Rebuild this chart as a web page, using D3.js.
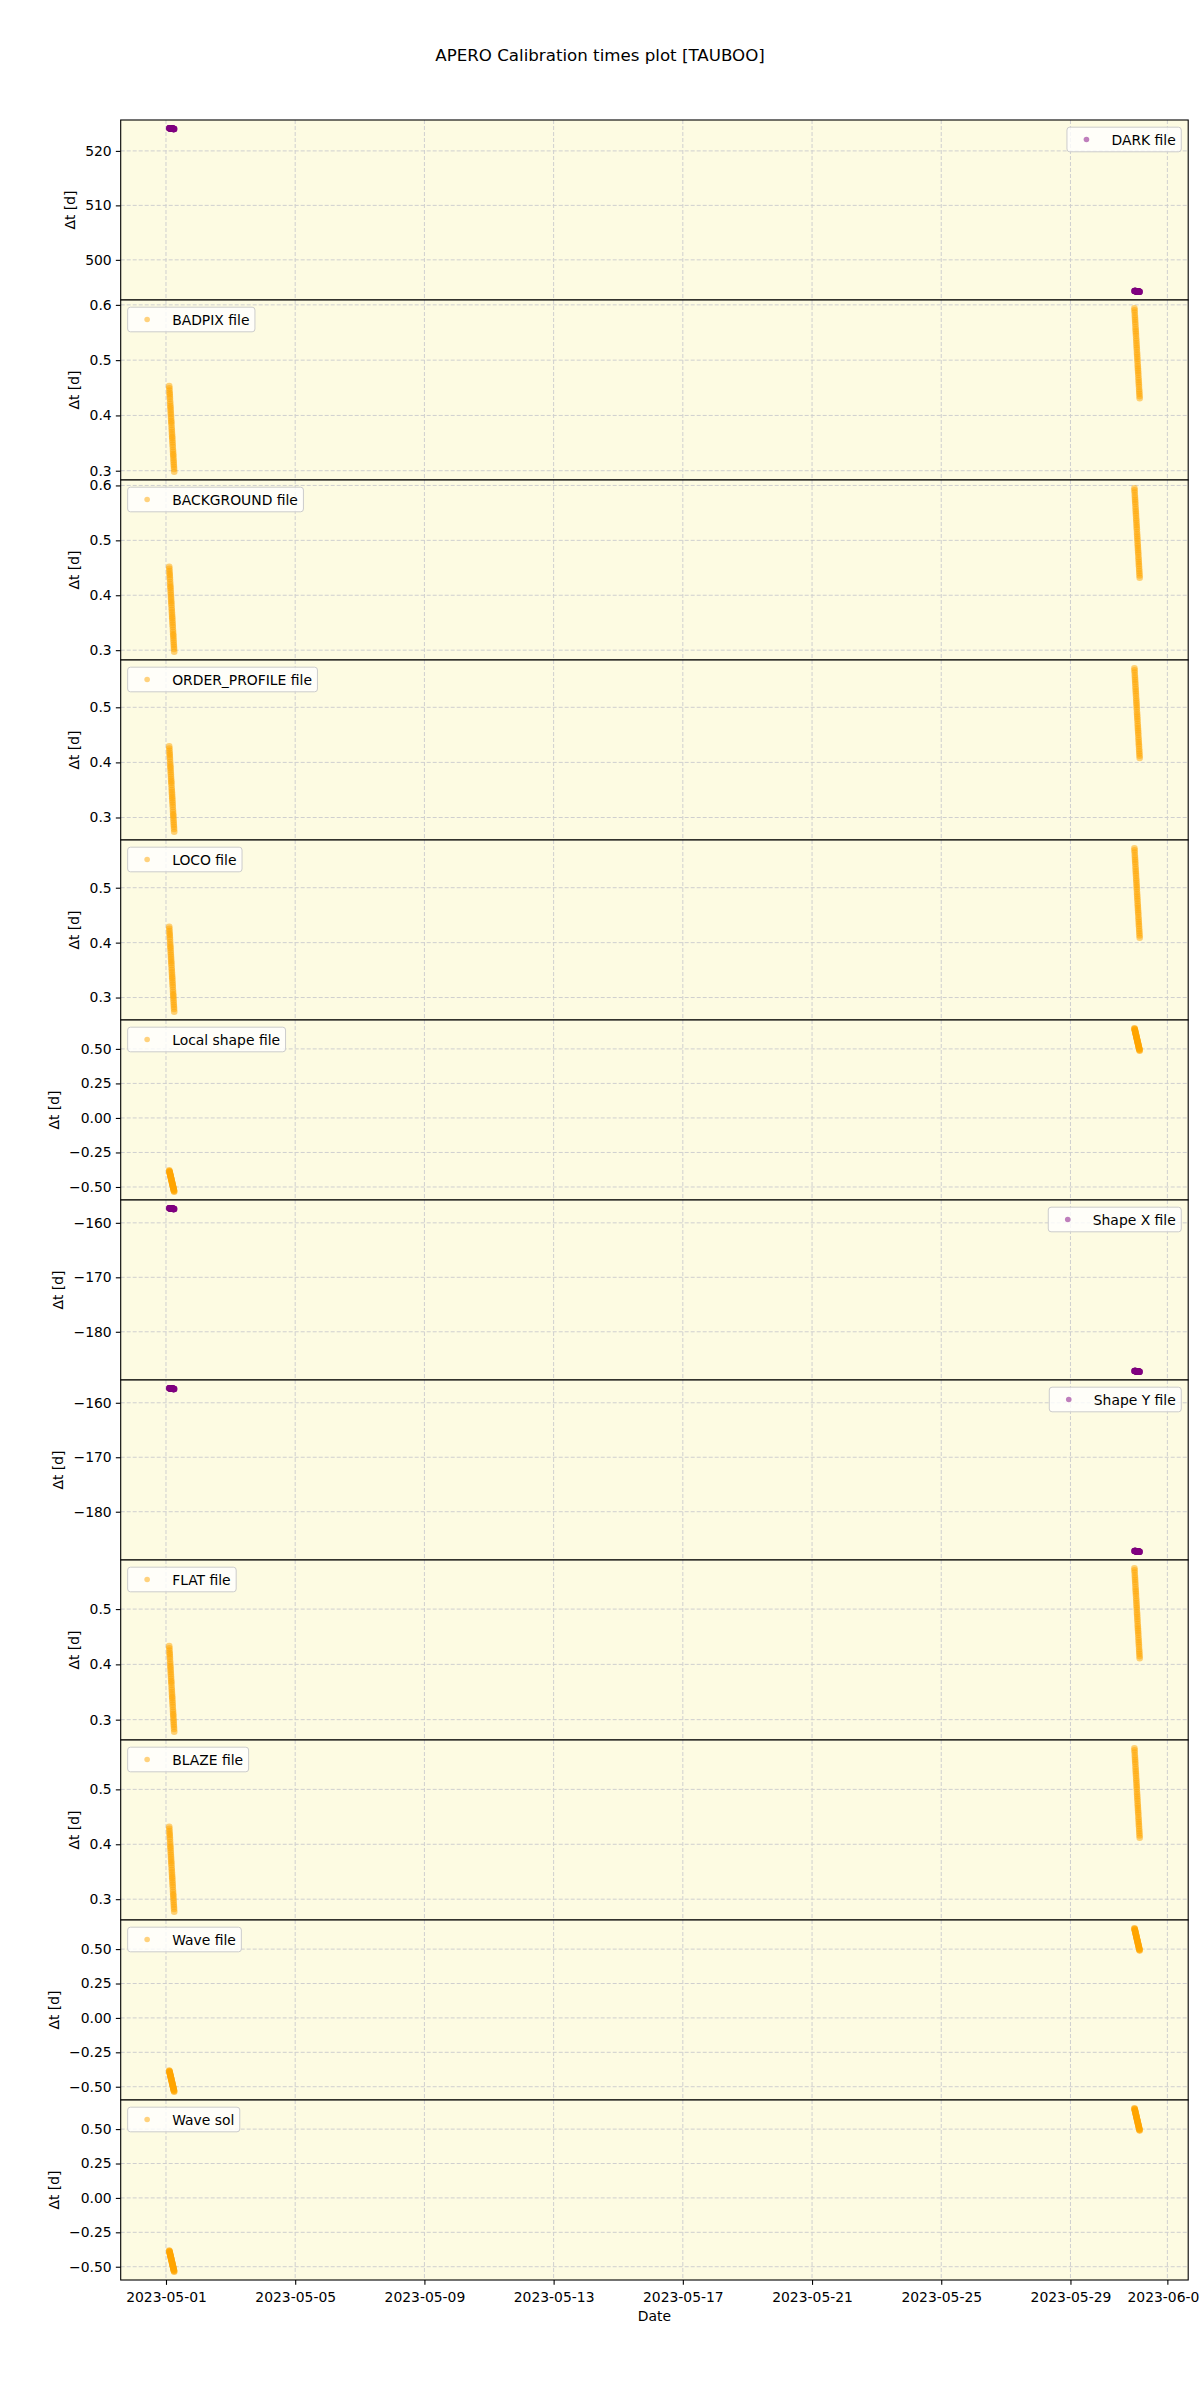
<!DOCTYPE html>
<html>
<head>
<meta charset="utf-8">
<script src="https://cdn.jsdelivr.net/npm/d3@7"></script>
<style>
body { margin: 0; background: #fff; }
text { font-family: "DejaVu Sans", sans-serif; }
</style>
</head>
<body>
<div id="container"></div>
<script>
// observation times, in days after 2023-05-01 00:00 UTC
var obsEarly = [0.100, 0.104, 0.108, 0.112, 0.115, 0.119, 0.123, 0.128, 0.132, 0.136, 0.139, 0.143, 0.147, 0.151, 0.155, 0.159, 0.163, 0.166, 0.170, 0.175,
                0.179, 0.183, 0.187, 0.191, 0.194, 0.198, 0.202, 0.206, 0.210, 0.215, 0.219, 0.223, 0.226, 0.230, 0.234, 0.238, 0.242, 0.246, 0.250, 0.255];
var obsLate = [29.980, 29.984, 29.988, 29.993, 29.997, 30.001, 30.005, 30.009, 30.014, 30.018, 30.022, 30.026, 30.030, 30.035, 30.039, 30.043, 30.047, 30.051, 30.055, 30.060,
               30.064, 30.068, 30.072, 30.076, 30.081, 30.085, 30.089, 30.093, 30.097, 30.101, 30.106, 30.110, 30.114, 30.118, 30.122, 30.127, 30.131, 30.135, 30.139, 30.143];

// delta t [d] per calibration type: first 40 go with obsEarly, last 40 with obsLate
var darkDt = [524.17, 524.17, 524.16, 524.16, 524.16, 524.15, 524.15, 524.14, 524.14, 524.13, 524.13, 524.13, 524.12, 524.12, 524.12, 524.11, 524.11, 524.10, 524.10, 524.10,
              524.09, 524.09, 524.08, 524.08, 524.08, 524.07, 524.07, 524.06, 524.06, 524.06, 524.05, 524.05, 524.04, 524.04, 524.04, 524.03, 524.03, 524.02, 524.02, 524.02,
              494.29, 494.29, 494.28, 494.28, 494.27, 494.27, 494.27, 494.26, 494.26, 494.25, 494.25, 494.24, 494.24, 494.24, 494.23, 494.23, 494.22, 494.22, 494.22, 494.21,
              494.21, 494.20, 494.20, 494.19, 494.19, 494.19, 494.18, 494.18, 494.17, 494.17, 494.16, 494.16, 494.16, 494.15, 494.15, 494.14, 494.14, 494.14, 494.13, 494.13];
var badpixDt = [0.453, 0.449, 0.445, 0.441, 0.438, 0.434, 0.430, 0.425, 0.421, 0.417, 0.414, 0.410, 0.406, 0.402, 0.398, 0.394, 0.390, 0.387, 0.383, 0.378,
                0.374, 0.370, 0.366, 0.362, 0.359, 0.355, 0.351, 0.347, 0.343, 0.338, 0.334, 0.330, 0.327, 0.323, 0.319, 0.315, 0.311, 0.307, 0.303, 0.298,
                0.594, 0.590, 0.586, 0.581, 0.577, 0.573, 0.569, 0.565, 0.560, 0.556, 0.552, 0.548, 0.544, 0.539, 0.535, 0.531, 0.527, 0.523, 0.519, 0.514,
                0.510, 0.506, 0.502, 0.498, 0.493, 0.489, 0.485, 0.481, 0.477, 0.473, 0.468, 0.464, 0.460, 0.456, 0.452, 0.447, 0.443, 0.439, 0.435, 0.431];
var backgroundDt = [0.452, 0.448, 0.444, 0.440, 0.437, 0.433, 0.429, 0.424, 0.420, 0.416, 0.413, 0.409, 0.405, 0.401, 0.397, 0.393, 0.389, 0.386, 0.382, 0.377,
                    0.373, 0.369, 0.365, 0.361, 0.358, 0.354, 0.350, 0.346, 0.342, 0.337, 0.333, 0.329, 0.326, 0.322, 0.318, 0.314, 0.310, 0.306, 0.302, 0.297,
                    0.595, 0.591, 0.587, 0.582, 0.578, 0.574, 0.570, 0.566, 0.561, 0.557, 0.553, 0.549, 0.545, 0.540, 0.536, 0.532, 0.528, 0.524, 0.520, 0.515,
                    0.511, 0.507, 0.503, 0.499, 0.494, 0.490, 0.486, 0.482, 0.478, 0.474, 0.469, 0.465, 0.461, 0.457, 0.453, 0.448, 0.444, 0.440, 0.436, 0.432];
var orderProfileDt = [0.429, 0.425, 0.421, 0.417, 0.414, 0.410, 0.406, 0.401, 0.397, 0.393, 0.390, 0.386, 0.382, 0.378, 0.374, 0.370, 0.366, 0.363, 0.359, 0.354,
                      0.350, 0.346, 0.342, 0.338, 0.335, 0.331, 0.327, 0.323, 0.319, 0.314, 0.310, 0.306, 0.303, 0.299, 0.295, 0.291, 0.287, 0.283, 0.279, 0.274,
                      0.571, 0.567, 0.563, 0.558, 0.554, 0.550, 0.546, 0.542, 0.537, 0.533, 0.529, 0.525, 0.521, 0.516, 0.512, 0.508, 0.504, 0.500, 0.496, 0.491,
                      0.487, 0.483, 0.479, 0.475, 0.470, 0.466, 0.462, 0.458, 0.454, 0.450, 0.445, 0.441, 0.437, 0.433, 0.429, 0.424, 0.420, 0.416, 0.412, 0.408];
var locoDt = [0.429, 0.425, 0.421, 0.417, 0.414, 0.410, 0.406, 0.401, 0.397, 0.393, 0.390, 0.386, 0.382, 0.378, 0.374, 0.370, 0.366, 0.363, 0.359, 0.354,
              0.350, 0.346, 0.342, 0.338, 0.335, 0.331, 0.327, 0.323, 0.319, 0.314, 0.310, 0.306, 0.303, 0.299, 0.295, 0.291, 0.287, 0.283, 0.279, 0.274,
              0.572, 0.568, 0.564, 0.559, 0.555, 0.551, 0.547, 0.543, 0.538, 0.534, 0.530, 0.526, 0.522, 0.517, 0.513, 0.509, 0.505, 0.501, 0.497, 0.492,
              0.488, 0.484, 0.480, 0.476, 0.471, 0.467, 0.463, 0.459, 0.455, 0.451, 0.446, 0.442, 0.438, 0.434, 0.430, 0.425, 0.421, 0.417, 0.413, 0.409];
var localShapeDt = [-0.380, -0.384, -0.388, -0.392, -0.395, -0.399, -0.403, -0.408, -0.412, -0.416, -0.419, -0.423, -0.427, -0.431, -0.435, -0.439, -0.443, -0.446, -0.450, -0.455,
                    -0.459, -0.463, -0.467, -0.471, -0.474, -0.478, -0.482, -0.486, -0.490, -0.495, -0.499, -0.503, -0.506, -0.510, -0.514, -0.518, -0.522, -0.526, -0.530, -0.535,
                    0.650, 0.646, 0.642, 0.637, 0.633, 0.629, 0.625, 0.621, 0.616, 0.612, 0.608, 0.604, 0.600, 0.595, 0.591, 0.587, 0.583, 0.579, 0.575, 0.570,
                    0.566, 0.562, 0.558, 0.554, 0.549, 0.545, 0.541, 0.537, 0.533, 0.529, 0.524, 0.520, 0.516, 0.512, 0.508, 0.503, 0.499, 0.495, 0.491, 0.487];
var shapeXDt = [-157.31, -157.31, -157.32, -157.32, -157.33, -157.33, -157.33, -157.34, -157.34, -157.35, -157.35, -157.35, -157.36, -157.36, -157.37, -157.37, -157.37, -157.38, -157.38, -157.39,
                -157.39, -157.39, -157.40, -157.40, -157.40, -157.41, -157.41, -157.42, -157.42, -157.43, -157.43, -157.43, -157.44, -157.44, -157.44, -157.45, -157.45, -157.46, -157.46, -157.47,
                -187.19, -187.19, -187.20, -187.20, -187.21, -187.21, -187.22, -187.22, -187.22, -187.23, -187.23, -187.24, -187.24, -187.25, -187.25, -187.25, -187.26, -187.26, -187.27, -187.27,
                -187.27, -187.28, -187.28, -187.29, -187.29, -187.30, -187.30, -187.30, -187.31, -187.31, -187.32, -187.32, -187.32, -187.33, -187.33, -187.34, -187.34, -187.35, -187.35, -187.35];
var shapeYDt = [-157.32, -157.32, -157.33, -157.33, -157.34, -157.34, -157.34, -157.35, -157.35, -157.36, -157.36, -157.36, -157.37, -157.37, -157.38, -157.38, -157.38, -157.39, -157.39, -157.40,
                -157.40, -157.40, -157.41, -157.41, -157.41, -157.42, -157.42, -157.43, -157.43, -157.44, -157.44, -157.44, -157.45, -157.45, -157.45, -157.46, -157.46, -157.47, -157.47, -157.48,
                -187.20, -187.20, -187.21, -187.21, -187.22, -187.22, -187.23, -187.23, -187.23, -187.24, -187.24, -187.25, -187.25, -187.26, -187.26, -187.26, -187.27, -187.27, -187.28, -187.28,
                -187.28, -187.29, -187.29, -187.30, -187.30, -187.31, -187.31, -187.31, -187.32, -187.32, -187.33, -187.33, -187.33, -187.34, -187.34, -187.35, -187.35, -187.36, -187.36, -187.36];
var flatDt = [0.433, 0.429, 0.425, 0.421, 0.418, 0.414, 0.410, 0.405, 0.401, 0.397, 0.394, 0.390, 0.386, 0.382, 0.378, 0.374, 0.370, 0.367, 0.363, 0.358,
              0.354, 0.350, 0.346, 0.342, 0.339, 0.335, 0.331, 0.327, 0.323, 0.318, 0.314, 0.310, 0.307, 0.303, 0.299, 0.295, 0.291, 0.287, 0.283, 0.278,
              0.574, 0.570, 0.566, 0.561, 0.557, 0.553, 0.549, 0.545, 0.540, 0.536, 0.532, 0.528, 0.524, 0.519, 0.515, 0.511, 0.507, 0.503, 0.499, 0.494,
              0.490, 0.486, 0.482, 0.478, 0.473, 0.469, 0.465, 0.461, 0.457, 0.453, 0.448, 0.444, 0.440, 0.436, 0.432, 0.427, 0.423, 0.419, 0.415, 0.411];
var blazeDt = [0.432, 0.428, 0.424, 0.420, 0.417, 0.413, 0.409, 0.404, 0.400, 0.396, 0.393, 0.389, 0.385, 0.381, 0.377, 0.373, 0.369, 0.366, 0.362, 0.357,
               0.353, 0.349, 0.345, 0.341, 0.338, 0.334, 0.330, 0.326, 0.322, 0.317, 0.313, 0.309, 0.306, 0.302, 0.298, 0.294, 0.290, 0.286, 0.282, 0.277,
               0.575, 0.571, 0.567, 0.562, 0.558, 0.554, 0.550, 0.546, 0.541, 0.537, 0.533, 0.529, 0.525, 0.520, 0.516, 0.512, 0.508, 0.504, 0.500, 0.495,
               0.491, 0.487, 0.483, 0.479, 0.474, 0.470, 0.466, 0.462, 0.458, 0.454, 0.449, 0.445, 0.441, 0.437, 0.433, 0.428, 0.424, 0.420, 0.416, 0.412];
var waveFileDt = [-0.382, -0.386, -0.390, -0.394, -0.397, -0.401, -0.405, -0.410, -0.414, -0.418, -0.421, -0.425, -0.429, -0.433, -0.437, -0.441, -0.445, -0.448, -0.452, -0.457,
                  -0.461, -0.465, -0.469, -0.473, -0.476, -0.480, -0.484, -0.488, -0.492, -0.497, -0.501, -0.505, -0.508, -0.512, -0.516, -0.520, -0.524, -0.528, -0.532, -0.537,
                  0.652, 0.648, 0.644, 0.639, 0.635, 0.631, 0.627, 0.623, 0.618, 0.614, 0.610, 0.606, 0.602, 0.597, 0.593, 0.589, 0.585, 0.581, 0.577, 0.572,
                  0.568, 0.564, 0.560, 0.556, 0.551, 0.547, 0.543, 0.539, 0.535, 0.531, 0.526, 0.522, 0.518, 0.514, 0.510, 0.505, 0.501, 0.497, 0.493, 0.489];
var waveSolDt = [-0.382, -0.386, -0.390, -0.394, -0.397, -0.401, -0.405, -0.410, -0.414, -0.418, -0.421, -0.425, -0.429, -0.433, -0.437, -0.441, -0.445, -0.448, -0.452, -0.457,
                 -0.461, -0.465, -0.469, -0.473, -0.476, -0.480, -0.484, -0.488, -0.492, -0.497, -0.501, -0.505, -0.508, -0.512, -0.516, -0.520, -0.524, -0.528, -0.532, -0.537,
                 0.652, 0.648, 0.644, 0.639, 0.635, 0.631, 0.627, 0.623, 0.618, 0.614, 0.610, 0.606, 0.602, 0.597, 0.593, 0.589, 0.585, 0.581, 0.577, 0.572,
                 0.568, 0.564, 0.560, 0.556, 0.551, 0.547, 0.543, 0.539, 0.535, 0.531, 0.526, 0.522, 0.518, 0.514, 0.510, 0.505, 0.501, 0.497, 0.493, 0.489];

var panelNames = ["DARK file", "BADPIX file", "BACKGROUND file", "ORDER_PROFILE file", "LOCO file", "Local shape file",
                  "Shape X file", "Shape Y file", "FLAT file", "BLAZE file", "Wave file", "Wave sol"];
var panelValues = [darkDt, badpixDt, backgroundDt, orderProfileDt, locoDt, localShapeDt,
                   shapeXDt, shapeYDt, flatDt, blazeDt, waveFileDt, waveSolDt];

// y tick values per panel
var darkTicks = [500, 510, 520];
var pixTicks = [0.3, 0.4, 0.5, 0.6];
var profTicks = [0.3, 0.4, 0.5];
var halfTicks = [-0.50, -0.25, 0.00, 0.25, 0.50];
var shapeTicks = [-180, -170, -160];
var panelTicks = [darkTicks, pixTicks, pixTicks, profTicks, profTicks, halfTicks,
                  shapeTicks, shapeTicks, profTicks, profTicks, halfTicks, halfTicks];

var xTickLabels = ["2023-05-01", "2023-05-05", "2023-05-09", "2023-05-13", "2023-05-17",
                   "2023-05-21", "2023-05-25", "2023-05-29", "2023-06-01"];

// older calibrations: purple, legend on the right
var purpleNames = ["DARK file", "Shape X file", "Shape Y file"];

var width = 1200, height = 2400;
var left = 120.7, right = 1188.2, top0 = 120, panelH = 180;
var bg = "#fdfbe2";
var fs = 13.9;

var svg = d3.select("#container").append("svg")
    .attr("width", width)
    .attr("height", height)
    .style("display", "block")
    .style("background", "#fff");

var dayMs = 864e5, t0 = Date.UTC(2023, 4, 1);
var obsDates = obsEarly.concat(obsLate).map(d => new Date(t0 + d * dayMs));

// matplotlib style 5% margins
function pad(ext) {
    var m = (ext[1] - ext[0]) * 0.05;
    return [ext[0] - m, ext[1] + m];
}

var xExt = d3.extent(obsDates, d => +d);
var x = d3.scaleUtc()
    .domain(pad(xExt).map(v => new Date(v)))
    .range([left, right]);

var parseDay = d3.utcParse("%Y-%m-%d");
var xTicks = xTickLabels.map(parseDay);

svg.append("text")
    .attr("x", 600)
    .attr("y", 60.5)
    .attr("text-anchor", "middle")
    .style("font-size", "16.67px")
    .attr("fill", "#000")
    .text("APERO Calibration times plot [TAUBOO]");

panelNames.forEach(function(name, i) {
    var vals = panelValues[i];
    var ticks = panelTicks[i];
    var top = top0 + i * panelH;
    var isPurple = purpleNames.indexOf(name) >= 0;
    var color = isPurple ? "#800080" : "#ffa500";

    var g = svg.append("g").attr("transform", "translate(0," + top + ")");

    var y = d3.scaleLinear()
        .domain(pad(d3.extent(vals)))
        .range([panelH, 0]);

    g.append("rect")
        .attr("x", left).attr("y", 0)
        .attr("width", right - left).attr("height", panelH)
        .attr("fill", bg);

    // grid
    g.append("g").selectAll("line")
        .data(xTicks)
        .join("line")
        .attr("x1", d => x(d)).attr("x2", d => x(d))
        .attr("y1", 0).attr("y2", panelH)
        .attr("stroke", "#cfcfcf").attr("stroke-width", 1)
        .attr("stroke-dasharray", "4,2");
    g.append("g").selectAll("line")
        .data(ticks)
        .join("line")
        .attr("x1", left).attr("x2", right)
        .attr("y1", d => y(d)).attr("y2", d => y(d))
        .attr("stroke", "#cfcfcf").attr("stroke-width", 1)
        .attr("stroke-dasharray", "4,2");

    // points
    g.append("g").selectAll("circle")
        .data(vals)
        .join("circle")
        .attr("cx", (d, j) => x(obsDates[j]))
        .attr("cy", d => y(d))
        .attr("r", 3.3)
        .attr("fill", color)
        .attr("fill-opacity", 0.5);

    // y axis
    var decimals = d3.max(ticks, t => (String(t).split(".")[1] || "").length);
    var fmt = d3.format("." + decimals + "f");
    var ga = g.append("g")
        .attr("transform", "translate(" + left + ",0)")
        .call(d3.axisLeft(y).tickValues(ticks).tickFormat(fmt)
            .tickSize(4.86).tickPadding(4.2));
    ga.select(".domain").remove();
    ga.attr("font-size", fs);
    ga.selectAll("line").attr("stroke", "#000").attr("stroke-width", 1.1);
    ga.selectAll("text").attr("fill", "#000");

    var minX = d3.min(ga.selectAll("text").nodes(), n => n.getBBox().x) + left;
    g.append("text")
        .attr("transform", "translate(" + (minX - 10.4) + "," + (panelH / 2) + ") rotate(-90)")
        .attr("text-anchor", "middle")
        .style("font-size", fs + "px")
        .attr("fill", "#000")
        .text("\u0394t [d]");

    // frame
    g.append("rect")
        .attr("x", left).attr("y", 0)
        .attr("width", right - left).attr("height", panelH)
        .attr("fill", "none")
        .attr("stroke", "#000")
        .attr("stroke-width", 1.1);

    // legend
    var lg = g.append("g");
    var box = lg.append("rect")
        .attr("rx", 2.8).attr("ry", 2.8)
        .attr("fill", "#fff").attr("fill-opacity", 0.8)
        .attr("stroke", "#cccccc").attr("stroke-width", 1);
    var lt = lg.append("text")
        .style("font-size", fs + "px")
        .attr("fill", "#000")
        .attr("dominant-baseline", "central")
        .text(name);
    var tw = lt.node().getComputedTextLength();
    var bw = 50 + tw, bh = 24.6;
    var bx = isPurple ? right - 6.95 - bw : left + 6.95;
    var by = 7.2;
    box.attr("x", bx).attr("y", by).attr("width", bw).attr("height", bh);
    lt.attr("x", bx + 44.5).attr("y", by + bh / 2 + 0.5);
    lg.append("circle")
        .attr("cx", bx + 19.5).attr("cy", by + bh / 2)
        .attr("r", 2.8)
        .attr("fill", color).attr("fill-opacity", 0.5);
});

// bottom x axis
var bottom = top0 + panelNames.length * panelH;
var gx = svg.append("g")
    .attr("transform", "translate(0," + bottom + ")")
    .call(d3.axisBottom(x).tickValues(xTicks).tickFormat(d3.utcFormat("%Y-%m-%d"))
        .tickSize(4.86).tickPadding(6.8));
gx.select(".domain").remove();
gx.attr("font-size", fs);
gx.selectAll("line").attr("stroke", "#000").attr("stroke-width", 1.1);
gx.selectAll("text").attr("fill", "#000");

svg.append("text")
    .attr("x", (left + right) / 2)
    .attr("y", 2320.5)
    .attr("text-anchor", "middle")
    .style("font-size", fs + "px")
    .attr("fill", "#000")
    .text("Date");
</script>
</body>
</html>
